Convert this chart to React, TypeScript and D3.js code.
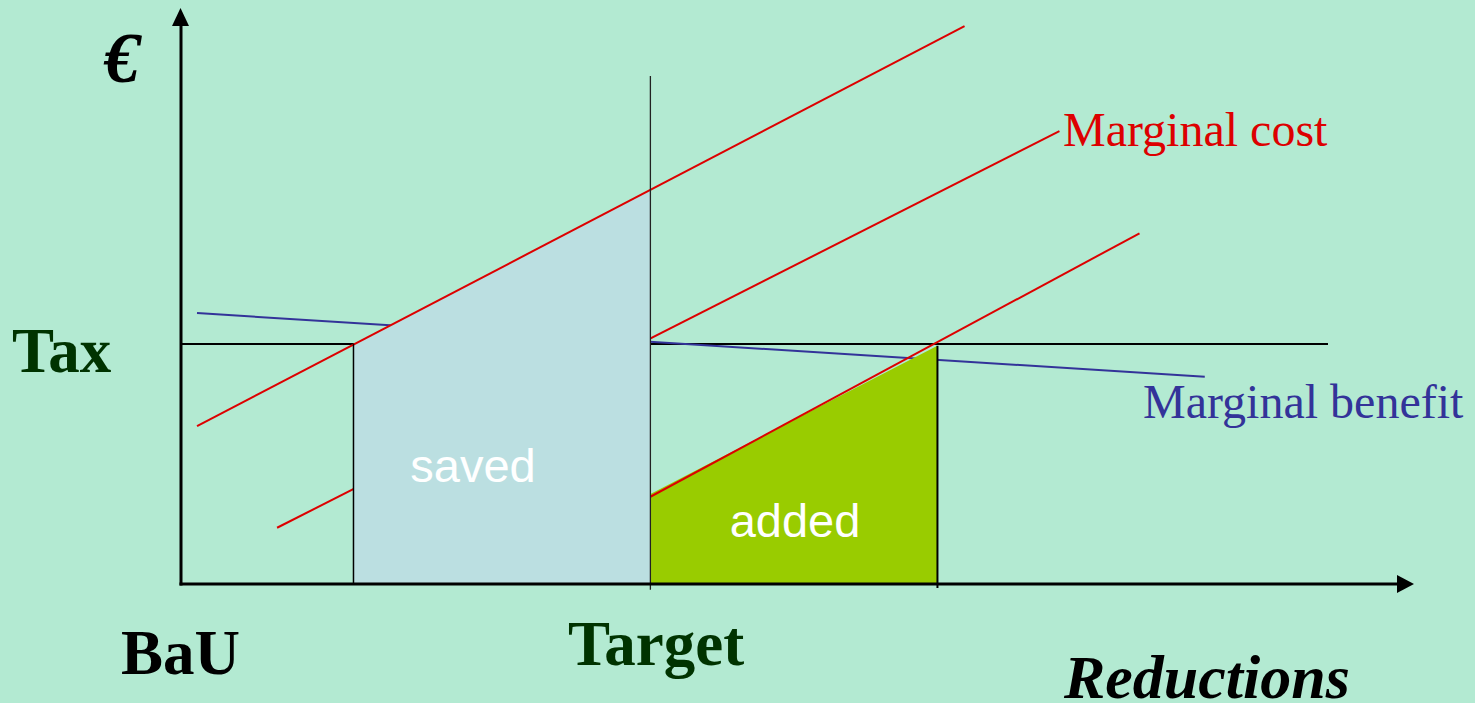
import React from "react";
import * as d3 from "d3";

// ---- data (abstract units: reductions on x, € on y) ----
const taxLevel = 41.8;
const bauX = 0;
const targetX = 38.1;
const taxCutLeftX = 14.0; // top MC meets tax
const taxCutRightX = 61.4; // bottom MC meets tax
const axisMaxX = 100;
const axisMaxY = 100;

const mcTop: [number, number][] = [[1.3, 27.5], [63.6, 97.2]];
const mcMiddle: [number, number][] = [[7.8, 9.8], [71.3, 78.9]];
const mcBottom: [number, number][] = [[38.1, 15.2], [77.8, 61.1]];
const marginalBenefit: [number, number][] = [[1.3, 47.2], [83.1, 36.1]];
const taxLine: [number, number][] = [[0, 41.8], [93.1, 41.8]];

const savedArea: [number, number][] = [[14.0, 41.8], [38.1, 68.7], [38.1, 0], [14.0, 0]];
const addedArea: [number, number][] = [[38.1, 15.7], [61.4, 41.5], [61.4, 0], [38.1, 0]];

const targetLineY: [number, number] = [-1.0, 88.5];
const rightDropY: [number, number] = [-0.7, 41.5];

const W = 1475;
const H = 703;

export default function App() {
  const x = d3.scaleLinear().domain([0, axisMaxX]).range([181, 1413]);
  const y = d3.scaleLinear().domain([0, axisMaxY]).range([584, 10]);
  const line = d3.line<[number, number]>().x((d) => x(d[0])).y((d) => y(d[1]));
  const poly = (pts: [number, number][]) => line(pts) + "Z";

  const x0 = x(bauX);
  const y0 = y(0);
  const serif = "'Liberation Serif', 'Times New Roman', serif";
  const sans = "'Liberation Sans', Arial, sans-serif";

  return (
    <svg
      width={W}
      height={H}
      style={{ position: "absolute", left: 0, top: 0, display: "block" }}
    >
      <rect x={0} y={0} width={W} height={H} fill="#b3ead2" />

      {/* lines hidden behind the areas */}
      <path d={line(taxLine)!} stroke="#000" strokeWidth={2} fill="none" />
      <path d={line(marginalBenefit)!} stroke="#333399" strokeWidth={2} fill="none" />
      <path d={line(mcMiddle)!} stroke="#dd0000" strokeWidth={2} fill="none" />

      {/* areas */}
      <path d={poly(savedArea)} fill="#bbdfe1" />
      <path d={poly(addedArea)} fill="#99cc00" />

      {/* lines on top */}
      <path d={line(mcTop)!} stroke="#dd0000" strokeWidth={2} fill="none" />
      <path d={line(mcBottom)!} stroke="#dd0000" strokeWidth={2} fill="none" />

      {/* verticals */}
      <line x1={x(taxCutLeftX)} x2={x(taxCutLeftX)} y1={y(taxLevel)} y2={y0} stroke="#000" strokeWidth={1.5} />
      <line x1={x(targetX)} x2={x(targetX)} y1={y(targetLineY[1])} y2={y(targetLineY[0])} stroke="#222" strokeWidth={1.3} />
      <line x1={x(taxCutRightX)} x2={x(taxCutRightX)} y1={y(rightDropY[1])} y2={y(rightDropY[0])} stroke="#000" strokeWidth={2} />

      {/* axes */}
      <line x1={x0} x2={x0} y1={y0 + 1.5} y2={y(axisMaxY) + 14} stroke="#000" strokeWidth={3} />
      <path d={`M${x0 - 0.5},${y(axisMaxY) - 2} L${x0 - 9},${y(axisMaxY) + 16} L${x0 + 8},${y(axisMaxY) + 16} Z`} fill="#000" />
      <line x1={x0 - 1.5} x2={x(axisMaxX) - 14} y1={y0} y2={y0} stroke="#000" strokeWidth={3} />
      <path d={`M${x(axisMaxX) + 1},${y0} L${x(axisMaxX) - 16},${y0 - 9} L${x(axisMaxX) - 16},${y0 + 9} Z`} fill="#000" />

      {/* text */}
      <text x={104} y={82} fontFamily={serif} fontWeight="bold" fontStyle="italic" fontSize={72} fill="#000">€</text>
      <text x={12} y={372} fontFamily={serif} fontWeight="bold" fontSize={63} fill="#003300">Tax</text>
      <text x={121} y={674} fontFamily={serif} fontWeight="bold" fontSize={63} fill="#000">BaU</text>
      <text x={568} y={665} fontFamily={serif} fontWeight="bold" fontSize={63} fill="#003300">Target</text>
      <text x={1064} y={698} fontFamily={serif} fontWeight="bold" fontStyle="italic" fontSize={62} fill="#000">Reductions</text>
      <text x={1063} y={146} fontFamily={serif} fontSize={48} fill="#dd0000">Marginal cost</text>
      <text x={1143} y={418} fontFamily={serif} fontSize={48} fill="#333399">Marginal benefit</text>
      <text x={473} y={482} textAnchor="middle" fontFamily={sans} fontSize={47} fill="#fff">saved</text>
      <text x={795} y={537} textAnchor="middle" fontFamily={sans} fontSize={47} fill="#fff">added</text>
    </svg>
  );
}
